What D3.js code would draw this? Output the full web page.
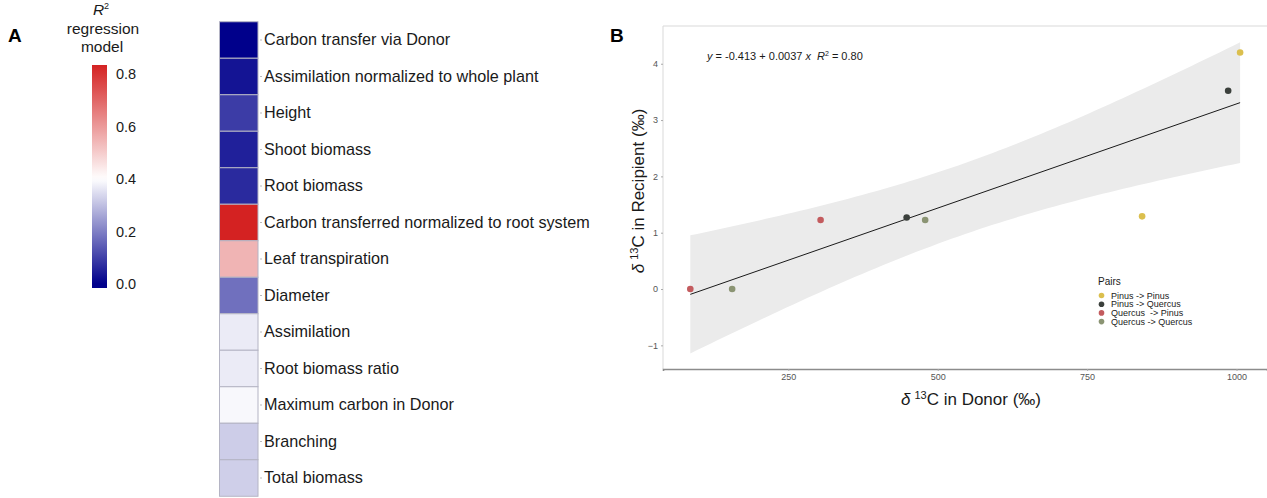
<!DOCTYPE html>
<html>
<head>
<meta charset="utf-8">
<script src="https://cdn.jsdelivr.net/npm/d3@7"></script>
<style>
  html, body { margin: 0; padding: 0; background: #fff; }
  svg { display: block; font-family: "Liberation Sans", Arial, sans-serif; }
</style>
</head>
<body>
<svg id="fig" width="1267" height="498"></svg>
<script>
// ---- Panel A: R² of each regression model ----
const traits = [
  "Carbon transfer via Donor",
  "Assimilation normalized to whole plant",
  "Height",
  "Shoot biomass",
  "Root biomass",
  "Carbon transferred normalized to root system",
  "Leaf transpiration",
  "Diameter",
  "Assimilation",
  "Root biomass ratio",
  "Maximum carbon in Donor",
  "Branching",
  "Total biomass"
];
const r2Values = [0.00, 0.031, 0.094, 0.05, 0.066, 0.834, 0.547, 0.176, 0.369, 0.369, 0.389, 0.322, 0.325];
const colourLimits = [-0.016, 0.834];
const colourbarTicks = [0.0, 0.2, 0.4, 0.6, 0.8];

// ---- Panel B: δ13C in donor vs recipient ----
const pairNames = ["Pinus -> Pinus", "Pinus -> Quercus", "Quercus  -> Pinus", "Quercus -> Quercus"];
const pairColours = ["#dbbf4e", "#3b403c", "#c35b5e", "#8b9473"];
const donorD13C     = [86, 156, 304, 448, 479, 842, 986, 1006];
const recipientD13C = [0, 0, 1.225, 1.27, 1.225, 1.29, 3.52, 4.2];
const pointPair     = [2, 3, 2, 1, 3, 0, 1, 0];
const fitIntercept = -0.413, fitSlope = 0.0037, fitR2 = 0.80;
const xTicks = [250, 500, 750, 1000];
const yTicks = [-1, 0, 1, 2, 3, 4];

const svg = d3.select("#fig");

// ---------------- Panel A ----------------
svg.append("text").attr("x", 8).attr("y", 42)
  .attr("font-size", 19).attr("font-weight", "bold").text("A");

const colour = d3.scaleLinear()
  .domain([0, 0.4, 0.834])
  .range(["#00008b", "#ffffff", "#d42222"])
  .interpolate(d3.interpolateRgb)
  .clamp(true);

// colourbar
const cb = d3.scaleLinear().domain(colourLimits).range([288, 65]);
const defs = svg.append("defs");
const grad = defs.append("linearGradient").attr("id", "cbGrad")
  .attr("x1", 0).attr("y1", 1).attr("x2", 0).attr("y2", 0);
d3.range(0, 1.0001, 0.02).forEach(t => {
  const v = colourLimits[0] + t * (colourLimits[1] - colourLimits[0]);
  grad.append("stop").attr("offset", t).attr("stop-color", colour(v));
});
svg.append("rect").attr("x", 92).attr("width", 15)
  .attr("y", cb(colourLimits[1])).attr("height", cb(colourLimits[0]) - cb(colourLimits[1]))
  .attr("fill", "url(#cbGrad)");
svg.append("g").selectAll("text").data(colourbarTicks).join("text")
  .attr("x", 116).attr("y", d => cb(d)).attr("dy", "0.36em")
  .attr("font-size", 14.5).attr("fill", "#1a1a1a")
  .text(d => d.toFixed(1));

const cbTitle = svg.append("text").attr("text-anchor", "middle")
  .attr("font-size", 15.5).attr("fill", "#1a1a1a");
const r2t = cbTitle.append("tspan").attr("x", 101).attr("y", 15);
r2t.append("tspan").attr("font-style", "italic").text("R");
r2t.append("tspan").attr("font-size", 9).attr("dy", -6).text("2");
cbTitle.append("tspan").attr("x", 103).attr("y", 34).text("regression");
cbTitle.append("tspan").attr("x", 102).attr("y", 52).text("model");

// heatmap column
const rowBand = d3.scaleBand().domain(traits).range([21.75, 496.25]).padding(0);
const cellX0 = 219.5, cellW = 38.5;
svg.append("g").selectAll("rect").data(traits).join("rect")
  .attr("x", cellX0).attr("width", cellW)
  .attr("y", d => rowBand(d)).attr("height", rowBand.bandwidth())
  .attr("fill", (d, i) => colour(r2Values[i]))
  .attr("stroke", "#b4b4c4").attr("stroke-width", 1);

const rowAxis = svg.append("g").attr("transform", `translate(${cellX0 + cellW + 2},0)`)
  .call(d3.axisRight(rowBand).tickSize(2).tickPadding(2));
rowAxis.select(".domain").remove();
rowAxis.selectAll(".tick line").attr("stroke", "#bbb");
rowAxis.selectAll("text").attr("font-size", 16.2).attr("fill", "#1a1a1a")
  .attr("font-family", "'Liberation Sans', Arial, sans-serif");

// ---------------- Panel B ----------------
svg.append("text").attr("x", 610).attr("y", 42)
  .attr("font-size", 19).attr("font-weight", "bold").text("B");

const x = d3.scaleLinear().domain([40.3, 1051]).range([663, 1267]);
const y = d3.scaleLinear().domain([-1.42, 4.67]).range([369, 26]);

// panel frame (top and left light lines)
svg.append("line").attr("x1", 663).attr("x2", 1267).attr("y1", 26).attr("y2", 26)
  .attr("stroke", "#d9d9d9").attr("stroke-width", 1);
svg.append("line").attr("x1", 663).attr("x2", 663).attr("y1", 26).attr("y2", 369)
  .attr("stroke", "#d9d9d9").attr("stroke-width", 1);

// 95% confidence band of the linear fit
const n = donorD13C.length;
const xm = d3.mean(donorD13C);
const sxx = d3.sum(donorD13C, v => (v - xm) ** 2);
const resid = donorD13C.map((v, i) => recipientD13C[i] - (fitIntercept + fitSlope * v));
const s = Math.sqrt(d3.sum(resid, r => r * r) / (n - 2));
const tCrit = 2.447; // t(0.975, df = 6)
const xLo = d3.min(donorD13C), xHi = d3.max(donorD13C);
const bandPts = d3.range(0, 81).map(k => {
  const xv = xLo + (xHi - xLo) * k / 80;
  const fit = fitIntercept + fitSlope * xv;
  const half = tCrit * s * Math.sqrt(1 / n + (xv - xm) ** 2 / sxx);
  return { xv, lo: fit - half, hi: fit + half };
});
svg.append("path").datum(bandPts)
  .attr("d", d3.area().x(d => x(d.xv)).y0(d => y(d.lo)).y1(d => y(d.hi)))
  .attr("fill", "#ebebeb");

// regression line
svg.append("line")
  .attr("x1", x(xLo)).attr("y1", y(fitIntercept + fitSlope * xLo))
  .attr("x2", x(xHi)).attr("y2", y(fitIntercept + fitSlope * xHi))
  .attr("stroke", "#1a1a1a").attr("stroke-width", 1);

// points
svg.append("g").selectAll("circle").data(donorD13C).join("circle")
  .attr("cx", d => x(d)).attr("cy", (d, i) => y(recipientD13C[i]))
  .attr("r", 3.3).attr("fill", (d, i) => pairColours[pointPair[i]]);

// axes
const xAxis = svg.append("g").attr("transform", "translate(0,369)")
  .call(d3.axisBottom(x).tickValues(xTicks).tickFormat(d3.format("d")).tickSize(2).tickPadding(3));
xAxis.select(".domain").attr("stroke", "#8c8c8c").attr("stroke-width", 1.6);
xAxis.selectAll(".tick line").attr("stroke", "#aaa");
xAxis.selectAll("text").attr("font-size", 9).attr("fill", "#555")
  .attr("font-family", "'Liberation Sans', Arial, sans-serif");

const yAxis = svg.append("g").attr("transform", "translate(663,0)")
  .call(d3.axisLeft(y).tickValues(yTicks).tickFormat(d3.format("d")).tickSize(2).tickPadding(3));
yAxis.select(".domain").remove();
yAxis.selectAll(".tick line").attr("stroke", "#aaa");
yAxis.selectAll("text").attr("font-size", 9).attr("fill", "#555")
  .attr("font-family", "'Liberation Sans', Arial, sans-serif");

// axis titles
const xt = svg.append("text").attr("x", 971).attr("y", 405).attr("text-anchor", "middle")
  .attr("font-size", 17).attr("fill", "#1a1a1a");
xt.append("tspan").attr("font-style", "italic").text("δ");
xt.append("tspan").attr("font-size", 11).attr("dy", -6).attr("dx", 4).text("13");
xt.append("tspan").attr("dy", 6).text("C in Donor (‰)");

const yt = svg.append("text").attr("transform", "translate(644,191) rotate(-90)")
  .attr("text-anchor", "middle").attr("font-size", 17).attr("fill", "#1a1a1a");
yt.append("tspan").attr("font-style", "italic").text("δ");
yt.append("tspan").attr("font-size", 11).attr("dy", -6).attr("dx", 4).text("13");
yt.append("tspan").attr("dy", 6).text("C in Recipient (‰)");

// fitted equation
const eq = svg.append("text").attr("x", 707).attr("y", 60).attr("font-size", 11).attr("fill", "#1a1a1a");
eq.append("tspan").attr("font-style", "italic").text("y");
eq.append("tspan").text(` = ${fitIntercept} + ${fitSlope} `);
eq.append("tspan").attr("font-style", "italic").text("x");
eq.append("tspan").attr("font-style", "italic").attr("dx", 6).text("R");
eq.append("tspan").attr("font-size", 7).attr("dy", -4).text("2");
eq.append("tspan").attr("dy", 4).text(` = ${fitR2.toFixed(2)}`);

// legend
const lg = svg.append("g").attr("transform", "translate(1098,0)");
lg.append("text").attr("x", 0).attr("y", 285).attr("font-size", 10).attr("fill", "#1a1a1a").text("Pairs");
const items = lg.selectAll("g.item").data(pairNames).join("g").attr("class", "item")
  .attr("transform", (d, i) => `translate(0,${295.5 + i * 8.7})`);
items.append("circle").attr("cx", 3.5).attr("cy", 0).attr("r", 2.8)
  .attr("fill", (d, i) => pairColours[i]);
items.append("text").attr("x", 13).attr("y", 0).attr("dy", "0.35em")
  .attr("font-size", 9).attr("fill", "#1a1a1a")
  .style("white-space", "pre").text(d => d);
</script>
</body>
</html>
